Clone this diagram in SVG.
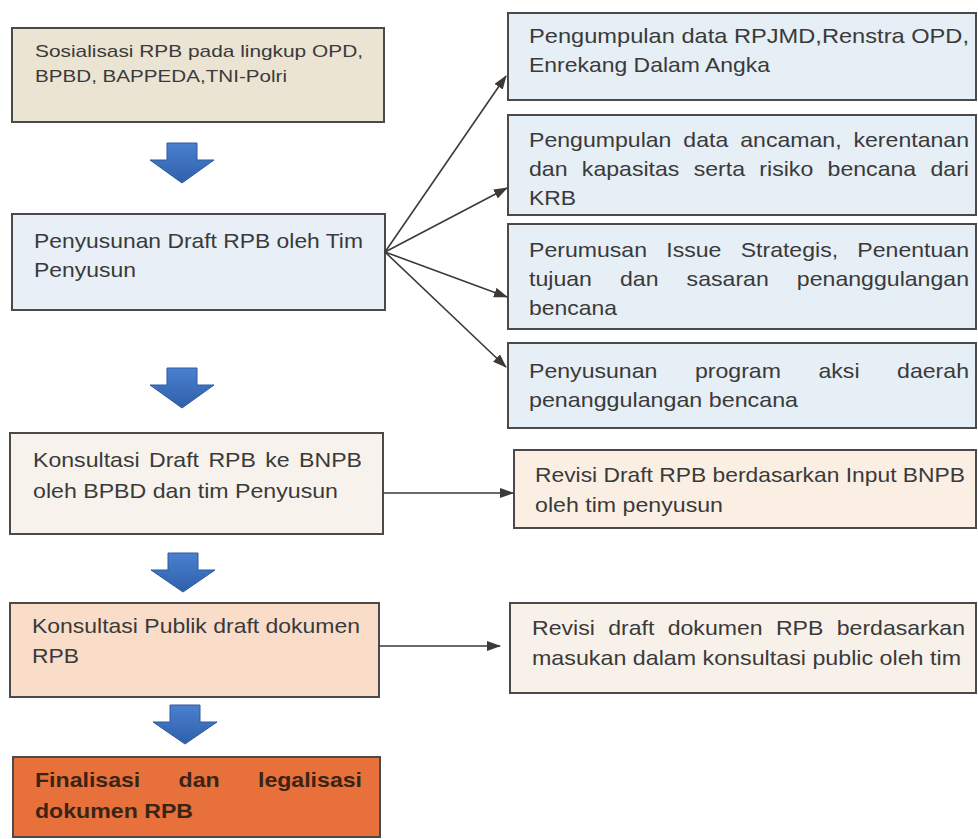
<svg xmlns="http://www.w3.org/2000/svg" width="978" height="839" viewBox="0 0 978 839">
<defs>
<style>
.box{stroke:#4a4a4a;stroke-width:2}
.t{font-family:"Liberation Sans",Arial,sans-serif;font-size:21px;fill:#3a3a3a}
.ts{font-family:"Liberation Sans",Arial,sans-serif;font-size:17px;fill:#3a3a3a}
.tb{font-family:"Liberation Sans",Arial,sans-serif;font-size:21px;font-weight:bold;fill:#3a2416}
.con{stroke:#3a3a3a;stroke-width:1.6;fill:none}
.blue{fill:url(#bg);stroke:#2c5a9e;stroke-width:1}
</style>
<linearGradient id="bg" x1="0" y1="0" x2="0" y2="1">
<stop offset="0" stop-color="#4a80cf"/>
<stop offset="1" stop-color="#2f60aa"/>
</linearGradient>
<marker id="ah" markerWidth="14" markerHeight="10" refX="13" refY="5" orient="auto" markerUnits="userSpaceOnUse">
<path d="M0,0 L14,5 L0,10 Z" fill="#3a3a3a"/>
</marker>
</defs>
<rect width="978" height="839" fill="#ffffff"/>

<g id="n-sosialisasi">
<rect class="box" x="12" y="28" width="372" height="94" fill="#ebe4d2"/>
<text class="ts" x="35" y="57" textLength="328" lengthAdjust="spacingAndGlyphs">Sosialisasi RPB pada lingkup OPD,</text>
<text class="ts" x="35" y="82" textLength="252" lengthAdjust="spacingAndGlyphs">BPBD, BAPPEDA,TNI-Polri</text>
</g>

<g id="n-penyusunan">
<rect class="box" x="12" y="214" width="373" height="96" fill="#e8eff6"/>
<text class="t" x="34" y="248" textLength="329" lengthAdjust="spacingAndGlyphs">Penyusunan Draft RPB oleh Tim</text>
<text class="t" x="34" y="277" textLength="102" lengthAdjust="spacingAndGlyphs">Penyusun</text>
</g>

<g id="n-konsultasi-bnpb">
<rect class="box" x="10" y="433" width="373" height="101" fill="#f8f2ec"/>
<text class="t" x="33" y="467" textLength="329" lengthAdjust="spacingAndGlyphs" word-spacing="2.7">Konsultasi Draft RPB ke BNPB</text>
<text class="t" x="33" y="498" textLength="305" lengthAdjust="spacingAndGlyphs">oleh BPBD dan tim Penyusun</text>
</g>

<g id="n-konsultasi-publik">
<rect class="box" x="10" y="603" width="369" height="94" fill="#f9ddc8"/>
<text class="t" x="32" y="633" textLength="328" lengthAdjust="spacingAndGlyphs">Konsultasi Publik draft dokumen</text>
<text class="t" x="32" y="663" textLength="47" lengthAdjust="spacingAndGlyphs">RPB</text>
</g>

<g id="n-finalisasi">
<rect class="box" x="13" y="757" width="367" height="80" fill="#e8703b"/>
<text class="tb" x="35" y="787" textLength="327" lengthAdjust="spacingAndGlyphs" word-spacing="29">Finalisasi dan legalisasi</text>
<text class="tb" x="35" y="818" textLength="158" lengthAdjust="spacingAndGlyphs">dokumen RPB</text>
</g>

<g id="n-data-rpjmd">
<rect class="box" x="508" y="13" width="468" height="87" fill="#e6eef6"/>
<text class="t" x="529" y="43" textLength="440" lengthAdjust="spacingAndGlyphs">Pengumpulan data RPJMD,Renstra OPD,</text>
<text class="t" x="529" y="72" textLength="241" lengthAdjust="spacingAndGlyphs">Enrekang Dalam Angka</text>
</g>

<g id="n-data-ancaman">
<rect class="box" x="508" y="115" width="468" height="100" fill="#e6eef6"/>
<text class="t" x="529" y="147" textLength="440" lengthAdjust="spacingAndGlyphs" word-spacing="5">Pengumpulan data ancaman, kerentanan</text>
<text class="t" x="529" y="176" textLength="440" lengthAdjust="spacingAndGlyphs" word-spacing="7.2">dan kapasitas serta risiko bencana dari</text>
<text class="t" x="529" y="205" textLength="47" lengthAdjust="spacingAndGlyphs">KRB</text>
</g>

<g id="n-perumusan">
<rect class="box" x="508" y="224" width="468" height="105" fill="#e6eef6"/>
<text class="t" x="529" y="257" textLength="440" lengthAdjust="spacingAndGlyphs" word-spacing="11.7">Perumusan Issue Strategis, Penentuan</text>
<text class="t" x="529" y="286" textLength="440" lengthAdjust="spacingAndGlyphs" word-spacing="19.7">tujuan dan sasaran penanggulangan</text>
<text class="t" x="529" y="315" textLength="88" lengthAdjust="spacingAndGlyphs">bencana</text>
</g>

<g id="n-program-aksi">
<rect class="box" x="508" y="343" width="468" height="85" fill="#e6eef6"/>
<text class="t" x="529" y="378" textLength="440" lengthAdjust="spacingAndGlyphs" word-spacing="28.3">Penyusunan program aksi daerah</text>
<text class="t" x="529" y="407" textLength="269" lengthAdjust="spacingAndGlyphs">penanggulangan bencana</text>
</g>

<g id="n-revisi-bnpb">
<rect class="box" x="514" y="450" width="462" height="78" fill="#fbefe3"/>
<text class="t" x="535" y="482" textLength="430" lengthAdjust="spacingAndGlyphs">Revisi Draft RPB berdasarkan Input BNPB</text>
<text class="t" x="535" y="512" textLength="188" lengthAdjust="spacingAndGlyphs">oleh tim penyusun</text>
</g>

<g id="n-revisi-publik">
<rect class="box" x="510" y="603" width="466" height="90" fill="#f8f1ea"/>
<text class="t" x="532" y="635" textLength="433" lengthAdjust="spacingAndGlyphs" word-spacing="6.3">Revisi draft dokumen RPB berdasarkan</text>
<text class="t" x="532" y="665" textLength="429" lengthAdjust="spacingAndGlyphs">masukan dalam konsultasi public oleh tim</text>
</g>

<g id="connectors">
<path class="blue" d="M167,143 H197 V160 H214 L182,183 L150,160 H167 Z"/>
<path class="blue" d="M167,368 H197 V385 H214 L182,408 L150,385 H167 Z"/>
<path class="blue" d="M168,553 H198 V570 H215 L183,592 L151,570 H168 Z"/>
<path class="blue" d="M170,705 H200 V722 H217 L185,744 L153,722 H170 Z"/>
<line class="con" x1="385" y1="252" x2="506" y2="76" marker-end="url(#ah)"/>
<line class="con" x1="385" y1="252" x2="507" y2="188" marker-end="url(#ah)"/>
<line class="con" x1="385" y1="252" x2="507" y2="297" marker-end="url(#ah)"/>
<line class="con" x1="385" y1="252" x2="506" y2="367" marker-end="url(#ah)"/>
<line class="con" x1="383" y1="493" x2="513" y2="493" marker-end="url(#ah)"/>
<line class="con" x1="379" y1="646" x2="500" y2="646" marker-end="url(#ah)"/>
</g>
</svg>
